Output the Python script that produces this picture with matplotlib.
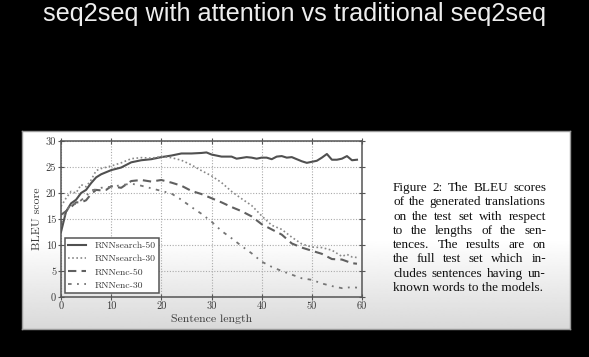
import numpy as np
import matplotlib
matplotlib.use("Agg")
import matplotlib.pyplot as plt

# ---------------- data ----------------
x_sr50 = [0, 1, 2, 3, 4, 5, 6, 7, 8, 9, 10, 12, 14, 16, 18, 20, 22, 24, 26, 28, 29, 30, 32, 34, 35, 37, 38, 39,
          40, 41, 42, 43, 44, 45, 46, 47, 48, 49, 50, 51, 52, 53, 54, 55, 56, 57, 58, 59]
y_sr50 = [12.5, 16.4, 18.0, 18.7, 20.0, 20.6, 21.9, 23.0, 23.6, 24.0, 24.4, 24.9, 25.9, 26.3, 26.5, 26.9, 27.2,
          27.6, 27.6, 27.7, 27.8, 27.4, 27.0, 27.0, 26.6, 26.9, 26.8, 26.6, 26.8, 26.8, 26.5, 27.0, 27.1, 26.8,
          26.9, 26.5, 26.1, 25.8, 26.0, 26.2, 26.8, 27.5, 26.4, 26.4, 26.6, 27.1, 26.3, 26.4]

x_sr30 = [0, 1, 2, 3, 4, 5, 6, 7, 8, 10, 12, 14, 16, 18, 20, 22, 24, 26, 28, 30, 32, 34, 36, 38, 40, 42, 44,
          46, 48, 50, 52, 54, 56, 57, 58, 59]
y_sr30 = [17.4, 19.0, 20.3, 20.0, 21.6, 21.2, 22.5, 24.3, 24.7, 25.2, 25.8, 26.6, 26.8, 26.7, 27.0, 26.8, 26.3,
          25.4, 24.3, 23.3, 22.0, 20.3, 18.9, 17.6, 15.6, 13.8, 13.0, 11.5, 10.2, 9.6, 9.5, 9.0, 7.8, 8.2, 7.7, 7.6]

x_re50 = [0, 1, 2, 3, 4, 5, 6, 7, 8, 9, 10, 12, 14, 16, 18, 20, 22, 24, 26, 28, 30, 32, 34, 36, 38, 40, 42,
          44, 46, 48, 50, 52, 54, 56, 58, 59]
y_re50 = [15.8, 16.5, 17.3, 18.2, 18.2, 18.6, 19.8, 20.6, 20.5, 20.6, 21.3, 21.0, 22.3, 22.5, 22.2, 22.5, 22.0,
          21.4, 20.4, 19.8, 19.0, 18.2, 17.3, 16.5, 15.5, 14.0, 13.0, 12.0, 10.3, 9.5, 8.9, 8.3, 7.3, 7.2, 6.5, 6.4]

x_re30 = [0, 1, 2, 3, 4, 5, 6, 7, 8, 10, 12, 14, 16, 18, 20, 22, 24, 26, 28, 30, 32, 34, 36, 38, 40, 42, 44,
          46, 48, 50, 52, 54, 56, 57, 58, 59]
y_re30 = [14.0, 16.5, 17.8, 17.9, 18.6, 19.4, 20.5, 20.7, 21.0, 21.2, 21.5, 21.8, 21.4, 20.9, 20.4, 19.9, 18.7,
          17.3, 16.0, 14.5, 12.7, 11.3, 9.8, 8.4, 6.8, 5.8, 5.0, 4.3, 3.6, 3.3, 2.6, 2.1, 1.7, 1.8, 1.9, 1.8]

labels = ["RNNsearch-50", "RNNsearch-30", "RNNenc-50", "RNNenc-30"]
xticks = [0, 10, 20, 30, 40, 50, 60]
yticks = [0, 5, 10, 15, 20, 25, 30]

title = "seq2seq with attention vs traditional seq2seq"
caption_lines = [
    "Figure 2:  The BLEU scores",
    "of the generated translations",
    "on the test set with respect",
    "to the lengths of the sen-",
    "tences.  The results are on",
    "the full test set which in-",
    "cludes sentences having un-",
    "known words to the models.",
]

# ---------------- figure ----------------
W, H = 589, 357
fig = plt.figure(figsize=(W / 100, H / 100), dpi=100, facecolor="black")

def fx(px):
    return px / W

def fy(py):
    return 1 - py / H

# panel with gradient
pl, pr, pt, pb = 22, 570, 131, 329
bg = fig.add_axes([fx(pl), fy(pb), fx(pr - pl), (pb - pt) / H])
rows = np.linspace(0, 1, 200)
vals = np.where(rows < 0.55, 1.0, 1.0 - (rows - 0.55) / 0.45 * 0.15)
bg.imshow(vals[:, None], cmap="gray", vmin=0, vmax=1, aspect="auto", extent=[0, 1, 0, 1], interpolation="bilinear")
bg.set_xlim(0, 1)
bg.set_ylim(0, 1)
bg.set_xticks([])
bg.set_yticks([])
for s in bg.spines.values():
    s.set_color("#9a9a9a")
    s.set_linewidth(1.0)

# title
fig.text(0.5, fy(14), title, color="#eeeeee", ha="center", va="center",
         fontsize=18.2, family="Liberation Sans")

# main axes
al, ar, at, ab = 61, 362, 141, 297
ax = fig.add_axes([fx(al), fy(ab), fx(ar - al), (ab - at) / H])
ax.set_facecolor("none")

cm = "cmr10"
ax.plot(x_sr50, y_sr50, color="#505050", lw=1.5, ls="-", label=labels[0])
ax.plot(x_sr30, y_sr30, color="#888888", lw=1.2, ls=(0, (1, 1.5)), label=labels[1])
ax.plot(x_re50, y_re50, color="#606060", lw=1.5, ls=(0, (4, 2.5)), label=labels[2])
ax.plot(x_re30, y_re30, color="#757575", lw=1.3, ls=(0, (2, 3, 1, 3)), label=labels[3])

ax.set_xlim(0, 60)
ax.set_ylim(0, 30)
ax.set_xticks(xticks)
ax.set_yticks(yticks)
ax.set_xticklabels([str(t) for t in xticks], family=cm, fontsize=7.5, color="#3a3a3a")
ax.set_yticklabels([str(t) for t in yticks], family=cm, fontsize=7.5, color="#3a3a3a")
ax.tick_params(direction="inout", top=True, right=True, length=4, width=0.8, color="#555555", pad=1.5)
ax.grid(True, ls=(0, (1, 1.5)), color="#aaaaaa", lw=0.8)
for s in ax.spines.values():
    s.set_color("#555555")
    s.set_linewidth(1.1)

ax.set_xlabel("Sentence length", family=cm, fontsize=8.5, color="#3a3a3a", labelpad=2)
ax.set_ylabel("BLEU score", family=cm, fontsize=8.5, color="#3a3a3a", labelpad=3)

leg = ax.legend(loc="lower left", prop={"family": cm, "size": 7}, fancybox=False, framealpha=1,
                edgecolor="#555555", handlelength=1.8, borderaxespad=0.4, labelspacing=0.45,
                borderpad=0.35, handletextpad=0.9, facecolor="white")
leg.get_frame().set_linewidth(1.1)
for t in leg.get_texts():
    t.set_color("#3a3a3a")

# caption, justified
fig.canvas.draw()
renderer = fig.canvas.get_renderer()
cx0, cx1 = 393, 546
cy0, dy = 188, 14.3
fprop = dict(family="Liberation Serif", fontsize=9.5, color="#111111")
for i, line in enumerate(caption_lines):
    y = fy(cy0 + i * dy)
    words = line.split()
    if i == len(caption_lines) - 1:
        fig.text(fx(cx0), y, line, ha="left", va="center", **fprop)
        continue
    texts = [fig.text(0, y, w, ha="left", va="center", **fprop) for w in words]
    widths = [t.get_window_extent(renderer).width for t in texts]
    gap = ((cx1 - cx0) - sum(widths)) / max(len(words) - 1, 1)
    xpos = cx0
    for t, wdt in zip(texts, widths):
        t.set_x(fx(xpos))
        xpos += wdt + gap

fig.savefig("out.png", dpi=100, facecolor="black")
